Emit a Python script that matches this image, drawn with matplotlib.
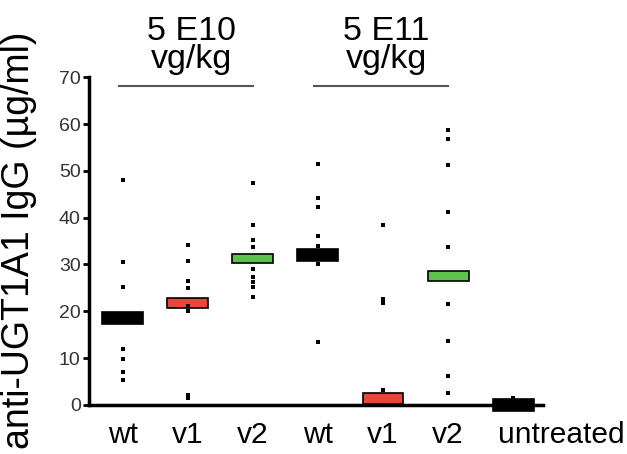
import matplotlib
matplotlib.use('Agg')
import matplotlib.pyplot as plt
from matplotlib.transforms import ScaledTranslation
import numpy as np

plt.rcParams['font.family'] = ['Liberation Sans', 'DejaVu Sans']

# группы и значения (мкг/мл)
groups = ['wt', 'v1', 'v2', 'wt', 'v1', 'v2', 'untreated']
points = [
    [48.0, 30.6, 25.2, 19.5, 18.0, 11.9, 9.8, 7.0, 5.3],
    [34.1, 30.8, 26.4, 24.9, 21.1, 20.0, 2.1, 1.4],
    [47.4, 38.5, 35.3, 33.8, 29.1, 27.4, 26.3, 25.2, 23.1],
    [51.5, 44.1, 42.3, 36.0, 34.0, 30.1, 13.5],
    [38.4, 22.7, 21.7, 3.3],
    [58.8, 56.7, 51.3, 41.2, 33.8, 21.5, 13.6, 6.2, 2.6],
    [1.5],
]
medians = [18.6, 21.7, 31.3, 32.0, 1.3, 27.6, 0.0]
bar_colors = ['black', '#e5483b', '#5ec24c', 'black', '#e5483b', '#5ec24c', 'black']
bar_heights = [2.5, 2.1, 1.9, 2.5, 2.4, 2.2, 2.4]

doses = ['5 E10\nvg/kg', '5 E11\nvg/kg']
dose_spans = [(0, 2), (3, 5)]

fig = plt.figure(figsize=(6.27, 4.54), dpi=100)
ax = fig.add_axes([0.142, 0.108, 0.724, 0.722])

x = np.arange(len(groups))

# медианы - горизонтальные прямоугольники
for i in range(len(groups)):
    ax.bar(x[i], bar_heights[i], bottom=medians[i] - bar_heights[i] / 2,
           width=0.63, color=bar_colors[i], edgecolor='black', linewidth=1.2,
           zorder=2, clip_on=False)

# отдельные точки
for i, vals in enumerate(points):
    ax.scatter(np.full(len(vals), x[i]), vals, s=12, marker='s', color='black',
               zorder=3, clip_on=False, linewidths=0)

ax.set_xlim(-0.52, 6.46)
ax.set_ylim(0, 70)
ax.set_yticks(np.arange(0, 71, 10))
ax.set_xticks(x)
ax.set_xticklabels(groups[:-1] + [''], fontsize=21.5)
# "untreated" сдвинут вправо, как на оригинале
pad = 11.5
shift = ax.get_xaxis_transform() + ScaledTranslation(0.48, -pad / 72, fig.dpi_scale_trans)
ax.text(x[-1], 0, groups[-1], transform=shift, ha='center', va='top', fontsize=21.5)
ax.tick_params(axis='x', length=0, pad=pad)
ax.tick_params(axis='y', length=4, width=2, labelsize=14, labelcolor='#333333', pad=2)

for side in ['top', 'right']:
    ax.spines[side].set_visible(False)
for side in ['left', 'bottom']:
    ax.spines[side].set_linewidth(2.5)

ax.set_ylabel('anti-UGT1A1 IgG (µg/ml)', fontsize=27)
ax.yaxis.set_label_coords(-0.115, 0.503)

# подписи доз над группами
for lab, (a, b) in zip(doses, dose_spans):
    ax.plot([x[a] - 0.06, x[b]], [68.2, 68.2], color='#555555', lw=1.5, clip_on=False)
    ax.text((x[a] + x[b]) / 2 + 0.05, 70.5, lab, ha='center', va='bottom',
            fontsize=24.5, linespacing=0.85)

plt.savefig('out.png', dpi=100)
